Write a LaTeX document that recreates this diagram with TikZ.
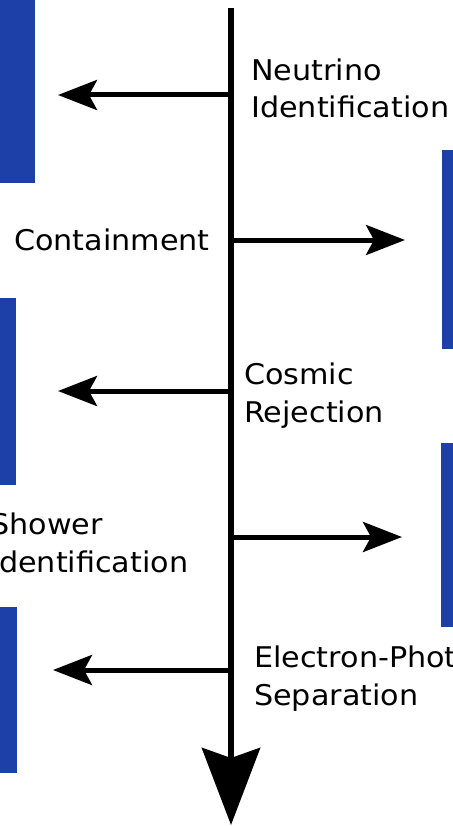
\documentclass[tikz,border=0pt]{standalone}
\usepackage{fontspec}
\setmainfont{DejaVu Sans}[FakeStretch=1.06]
\usetikzlibrary{arrows.meta}
\definecolor{panelblue}{RGB}{28,63,168}
\begin{document}
\begin{tikzpicture}[x=1pt,y=-1pt,
  panel/.style={fill=panelblue},
  trunk/.style={line width=6pt,-{Stealth[length=77pt,width=58pt,inset=10pt]}},
  branch/.style={line width=5pt,-{Stealth[length=39pt,width=30pt,inset=8pt]}},
  lbl/.style={anchor=base west,inner sep=0pt,align=left,font=\fontsize{28.5}{37.5}\selectfont}]
\useasboundingbox (0,0) rectangle (452,826);
% blue panels
\fill[panel] (-1,-1) rectangle (35,183);
\fill[panel] (442,150) rectangle (453,349);
\fill[panel] (-1,298) rectangle (16,485);
\fill[panel] (441,443) rectangle (453,627);
\fill[panel] (-1,607) rectangle (17,773);
% trunk
\coordinate (top) at (231,8);
\coordinate (bottom) at (231,825);
\draw[trunk] (top) -- (bottom);
% branches
\coordinate (j1) at (231,95);  \coordinate (e1) at (58,95);
\coordinate (j2) at (231,240); \coordinate (e2) at (405,240);
\coordinate (j3) at (231,391); \coordinate (e3) at (58,391);
\coordinate (j4) at (231,537); \coordinate (e4) at (402,537);
\coordinate (j5) at (231,670); \coordinate (e5) at (53,670);
\draw[branch] (j1) -- (e1);
\draw[branch] (j2) -- (e2);
\draw[branch] (j3) -- (e3);
\draw[branch] (j4) -- (e4);
\draw[branch] (j5) -- (e5);
% labels (base anchor = baseline of last line)
\node[lbl] (nu) at (251,118) {Neutrino\\Identification};
\node[lbl] (cont) at (14,250) {Containment};
\node[lbl] (cos) at (244,422) {Cosmic\\Rejection};
\node[lbl] (sh) at (-10,572) {Shower\\Identification};
\node[lbl] (ep) at (254,705) {Electron-Photon\\Separation};
\end{tikzpicture}
\end{document}
